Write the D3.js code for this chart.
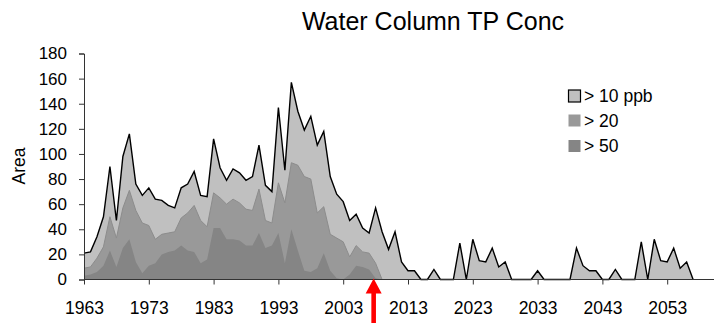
<!DOCTYPE html>
<html>
<head>
<meta charset="utf-8">
<script src="https://cdn.jsdelivr.net/npm/d3@7"></script>
<style>
  html, body { margin: 0; padding: 0; background: #fff; }
  svg { display: block; font-family: Arial, "Liberation Sans", sans-serif; }
</style>
</head>
<body>
<svg id="chart" width="714" height="323"></svg>
<script>
// Area of water column above each total-phosphorus threshold, by year
const startYear = 1963;
const years = d3.range(startYear, 2058);

const over10 = [21, 22, 34, 50, 90, 47, 98, 116, 76, 67,
                73, 64, 63, 59, 57, 73, 76, 86, 67, 66,
                112, 89, 79, 88, 85, 79, 82, 107, 75, 70,
                137, 87, 157, 134, 119, 130, 107, 118, 82, 68,
                62, 47, 52, 41, 37, 57, 38, 24, 38, 14,
                7, 7, 0, 0, 8, 0, 0, 0, 29, 0,
                32, 15, 14, 25, 10, 14, 0, 0, 0, 0,
                7, 0, 0, 0, 0, 0, 25, 11, 7, 7,
                0, 0, 8, 0, 0, 0, 30, 0, 32, 15,
                14, 25, 9, 14, 0];

const over20 = [9, 10, 17, 26, 50, 33, 57, 71, 55, 45,
                43, 32, 36, 37, 38, 49, 53, 59, 47, 42,
                69, 65, 60, 64, 61, 56, 55, 72, 47, 45,
                77, 61, 93, 91, 82, 80, 53, 58, 36, 33,
                30, 18, 27, 22, 21, 13, 0, 0, 0, 0,
                0, 0, 0, 0, 0, 0, 0, 0, 0, 0,
                0, 0, 0, 0, 0, 0, 0, 0, 0, 0,
                0, 0, 0, 0, 0, 0, 0, 0, 0, 0,
                0, 0, 0, 0, 0, 0, 0, 0, 0, 0,
                0, 0, 0, 0, 0];

const over50 = [3, 4, 6, 11, 23, 10, 25, 32, 14, 5,
                11, 13, 20, 22, 23, 27, 23, 22, 13, 16,
                41, 41, 32, 32, 31, 27, 27, 37, 25, 27,
                37, 13, 40, 23, 7, 6, 9, 21, 7, 1,
                0, 4, 11, 10, 8, 1, 0, 0, 0, 0,
                0, 0, 0, 0, 0, 0, 0, 0, 0, 0,
                0, 0, 0, 0, 0, 0, 0, 0, 0, 0,
                0, 0, 0, 0, 0, 0, 0, 0, 0, 0,
                0, 0, 0, 0, 0, 0, 0, 0, 0, 0,
                0, 0, 0, 0, 0];

const seriesNames = ["> 10 ppb", "> 20", "> 50"];
const xTickYears = [1963, 1973, 1983, 1993, 2003, 2013, 2023, 2033, 2043, 2053];
const yTicks = [0, 20, 40, 60, 80, 100, 120, 140, 160, 180];
const markerYear = 2007.7;   // year flagged by the red arrow

const series = [
  { name: seriesNames[0], values: over10, fill: "#c0c0c0", stroke: "#000", width: 1.4 },
  { name: seriesNames[1], values: over20, fill: "#999999", stroke: "#8c8c8c", width: 1 },
  { name: seriesNames[2], values: over50, fill: "#858585", stroke: "none", width: 0 }
];

const svg = d3.select("#chart");
const W = 714;
const left = 84, baseY = 279.5, topY = 53.5;
const fontStack = "Arial, 'Liberation Sans', sans-serif";

const x = d3.scaleLinear().domain([1963, 2063]).range([left, left + 648]);
const y = d3.scaleLinear().domain([0, 180]).range([baseY, topY]);

// Areas, widest threshold drawn first so the narrower ones sit on top
series.forEach(s => {
  const area = d3.area()
    .x((d, i) => x(years[i]))
    .y0(y(0))
    .y1(d => y(d));
  svg.append("path")
    .datum(s.values)
    .attr("d", area)
    .attr("fill", s.fill)
    .attr("stroke", "none");
  if (s.stroke !== "none") {
    const line = d3.line().x((d, i) => x(years[i])).y(d => y(d));
    svg.append("path")
      .datum(s.values)
      .attr("d", line)
      .attr("fill", "none")
      .attr("stroke", s.stroke)
      .attr("stroke-width", s.width)
      .attr("stroke-linejoin", "miter");
  }
});

// Y axis
const yAxis = svg.append("g")
  .attr("transform", `translate(${left},0)`)
  .call(d3.axisLeft(y).tickValues(yTicks).tickSize(5).tickPadding(12).tickFormat(d3.format("d")));
yAxis.select(".domain").attr("stroke", "#333");
yAxis.selectAll(".tick line").attr("stroke", "#333");
yAxis.selectAll("text").attr("font-size", 17).attr("fill", "#000")
  .attr("font-family", fontStack);

// X axis
const xAxis = svg.append("g")
  .attr("transform", `translate(0,${baseY})`)
  .call(d3.axisBottom(x).tickValues(xTickYears).tickSize(5).tickPadding(17).tickFormat(d3.format("d")));
xAxis.select(".domain").remove();
xAxis.append("line")
  .attr("x1", left).attr("x2", W).attr("y1", 0).attr("y2", 0)
  .attr("stroke", "#333");
xAxis.selectAll(".tick line").attr("stroke", "#333");
xAxis.selectAll("text").attr("font-size", 17.5).attr("fill", "#000")
  .attr("font-family", fontStack);

// Title and axis label
svg.append("text")
  .attr("x", 433).attr("y", 30)
  .attr("text-anchor", "middle")
  .attr("font-size", 25)
  .attr("fill", "#000")
  .text("Water Column TP Conc");

svg.append("text")
  .attr("transform", "translate(19,166) rotate(-90)")
  .attr("text-anchor", "middle")
  .attr("dominant-baseline", "central")
  .attr("font-size", 17.5)
  .attr("fill", "#000")
  .text("Area");

// Legend
const legendRows = [96, 120.5, 146];
const legend = svg.append("g");
series.forEach((s, i) => {
  const g = legend.append("g").attr("transform", `translate(568,${legendRows[i]})`);
  g.append("rect")
    .attr("x", 0.5).attr("y", -6)
    .attr("width", 12).attr("height", 12)
    .attr("fill", s.fill)
    .attr("stroke", i === 0 ? "#000" : "none")
    .attr("stroke-width", 1.2);
  g.append("text")
    .attr("x", 16).attr("y", 0)
    .attr("dominant-baseline", "central")
    .attr("font-size", 17.5)
    .attr("fill", "#000")
    .text(s.name);
});

// Red arrow marking the reference year
const ax = x(markerYear);
svg.append("path")
  .attr("d", `M${ax},${baseY - 1} L${ax + 8},${baseY + 14} L${ax + 2.3},${baseY + 14} L${ax + 2.3},323 L${ax - 2.3},323 L${ax - 2.3},${baseY + 14} L${ax - 8},${baseY + 14} Z`)
  .attr("fill", "#ff0000");
</script>
</body>
</html>
